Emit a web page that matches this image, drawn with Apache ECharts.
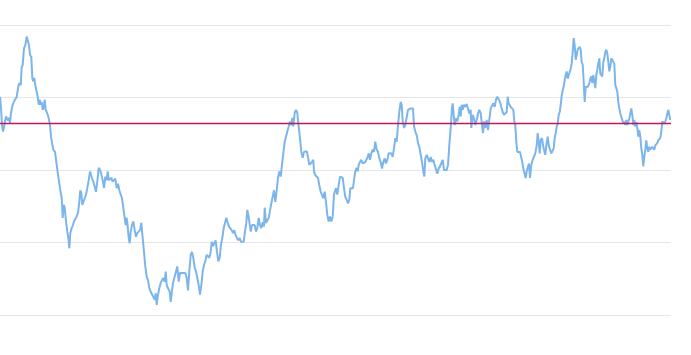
<!DOCTYPE html>
<html>
<head>
<meta charset="utf-8">
<script src="https://cdn.jsdelivr.net/npm/echarts@6/dist/echarts.min.js"></script>
<style>
html,body{margin:0;padding:0;background:#fff;}
#chart{width:691px;height:355px;}
</style>
</head>
<body>
<div id="chart"></div>
<script>
// Time steps (x) and series values (y)
var steps = [0,1,2,3,4,5,6,7,8,9,10,11,12,13.3,15,16.7,18.3,19.3,20.7,21.7,22.7,24,25.3,26.7,28,29,30,31.3,32.3,33.3,34.3,35.3,36.7,37.7,38.7,39.7,40.7,41.7,42.7,43.7,44.7,45.7,46.7,48.3,50,51,52.3,53.3,55,56.7,58.3,60,61.7,62.7,63.7,64.7,66,67.3,68.7,69.3,70.3,71.7,72.7,74,75.3,76.7,78,79.3,80.3,81.3,82.3,83.3,84.7,86,87.3,88.7,90,91,92,93.3,94.7,96,97.3,98.7,100,101,102,103,104,105.3,106.7,107.7,108.7,110,111.3,112.7,114,115.3,116.7,118,119.3,120.7,122,123.3,124.7,125.7,126.7,127.7,128.7,129.7,130.7,132,133.3,134.7,136,137.3,138.7,140,141.3,142.7,144,145.3,146.7,148,149.3,150.7,152,153.3,154.7,155.7,156.7,158,159.3,160.7,162,163.3,164.7,165.7,166.7,168,169.7,170.7,
172,173.3,174.7,176,177.3,178.7,180,181.3,182.7,184,185.3,186.7,188,189.3,190.7,192,193.3,194.7,196,197.3,198.7,200,201.3,202.7,204,205.3,206.7,208,209.3,210.7,211.7,213,214.3,215.7,217,218.3,219.7,221,222.3,223.7,225,226.3,227.7,229,230.3,231.7,233,234.3,235.7,237,238.3,239.7,241,242.3,243.7,245,246.3,247.3,248.3,249.3,250.7,252,253.3,254.7,256,257.3,258.7,260,261.3,262.7,264,264.7,266,267.3,268.7,270,271.3,272.7,274,275.3,276.7,278,279.3,280.7,282,283.3,284.7,286,287.3,288.7,290,291.3,292.3,293.3,294.7,296,297.3,298.3,299.3,300.3,301.3,302.7,304,305.3,306.7,308,309.3,310.7,312,313.3,314,315.3,316.7,318,319.3,320.7,322,323.3,324.7,326,327.3,328.7,330,331.3,332.7,334,335.3,336,337.3,338.7,
340,341.3,342.7,344,345.3,346.7,348,349.3,350.3,351.7,353,354.3,355.3,356.7,357.7,358.7,360,361.3,362.7,364,365.3,366.7,367.7,368.7,370,371.3,372.7,374,375.3,376.7,378,379.3,380.7,382,383.3,384.7,386,387.3,388.7,390,391.3,392.7,394,395.3,396.7,398,399.3,400.7,401.7,402.7,404,405.3,406.7,408,409.3,410.7,412,413,414,415.3,416.7,418,419.3,420.7,422,423.3,424.3,425.3,426.7,428,429.3,430.7,432,433.3,434.7,436,437.3,438.7,440,441.3,442.7,444,445.3,446.7,448,449.3,450.7,452,452.7,453.7,454.7,456,457.3,458.7,459.7,460.7,461.7,462.7,464,465.3,466.7,468,469.3,470.7,471.3,472.7,474,475.3,476.7,478,479.3,480.7,482,483,484,485.3,486.7,488,489.3,490.7,492,493.3,494.7,496,497.3,498.7,500,501.3,502.7,504,505.3,
506.7,507.7,508.7,509.7,510.7,512,513.3,514.3,515.3,516.3,517.3,518.7,520,521.3,522.3,523.3,524.7,525.7,526.7,528,529,530,531.3,532.7,534,535.3,536.7,537.7,538.7,539.7,540.7,542,543.3,544.3,545.3,546.3,547.7,548.7,550,551.3,552.7,553.7,554.7,555.7,556.7,557.7,558.7,559.7,560.7,561.7,562.7,563.7,564.7,565.7,566.7,567.7,568.7,569.7,570.7,571.7,572.7,573.7,574.7,575.7,576.7,577.7,578.7,579.7,580.7,581.7,582.7,583.7,584.7,585.7,586.7,588,589.3,590.3,591.3,592.3,593.3,594.3,595.3,596.3,597.3,598.3,599.3,600.3,601.3,602.3,603.3,604.3,605.3,606.3,607.3,608.3,609.3,610.3,611.3,612.3,613.3,614.3,615.3,616.3,617.3,618.3,619.3,620.3,621.3,622.3,623.3,624.3,625.3,626.3,627.3,628.3,629.3,630.3,631.3,632.3,633.3,634.3,635.3,636.3,637.3,638.3,639.3,640.3,641.3,642.3,643.3,644.3,645.3,646.3,647.3,648.3,649.3,650.3,651.3,652.3,653.3,654.3,655.3,656.3,657.3,658.3,659.3,660.3,661.3,662.3,663.3,664.3,665.3,666.3,667.3,668.3,669.3,670.3];

var values = [301,286,262,253,259,267,274,272,268,272,265,279,286,292,297,301,315,320,317,342,345,368,372,384,384,372,359,356,327,322,327,317,308,301,290,297,290,294,283,286,297,283,280,274,262,246,244,228,225,207,191,175,161,134,152,148,129,115,103,92,113,120,123,129,131,136,141,156,172,168,152,154,161,166,175,186,198,200,189,184,177,170,184,203,200,196,198,184,175,191,186,198,186,184,189,184,186,188,175,181,172,170,161,148,134,124,134,122,106,99,115,124,129,117,108,113,114,117,127,106,87,67,53,48,37,32,30,25,21,30,14,28,37,44,48,51,46,60,41,41,32,18,
34,46,48,60,67,46,58,60,58,60,58,51,34,60,83,87,79,65,60,51,41,28,41,60,69,74,83,83,79,87,101,95,99,103,87,74,79,97,106,120,127,134,127,122,124,117,113,117,110,106,103,106,101,102,101,115,127,145,138,129,115,124,122,124,115,120,134,124,120,128,122,148,127,129,134,136,154,163,172,156,172,189,198,191,207,223,239,246,253,260,267,262,272,260,279,283,279,264,253,239,225,217,225,223,226,218,207,205,211,214,198,193,191,189,179,170,172,161,170,156,138,129,136,129,136,166,172,175,166,179,
191,193,189,175,163,159,154,159,175,177,175,189,198,203,198,207,211,214,209,207,211,209,218,223,214,223,228,225,239,228,225,216,211,202,211,216,209,214,223,221,223,218,230,244,239,262,280,294,290,267,258,262,260,283,285,285,286,285,260,253,248,237,232,230,211,198,191,216,221,216,211,218,211,214,207,209,195,202,205,207,214,200,202,200,207,234,258,285,292,276,262,271,267,276,287,274,290,283,290,287,291,290,278,283,258,276,271,262,269,278,283,278,262,251,267,258,269,255,269,285,287,292,287,297,301,301,294,287,280,276,274,
280,301,292,292,287,285,283,267,262,239,225,225,225,223,211,202,200,189,198,205,209,189,207,214,216,223,234,251,239,223,241,244,232,234,221,234,246,234,228,223,221,230,244,251,260,264,276,280,290,303,310,315,324,331,336,326,324,326,340,347,363,382,372,352,359,366,368,370,366,349,345,322,294,315,317,315,320,326,329,320,331,333,313,331,338,347,354,333,335,329,349,354,363,366,361,349,336,342,354,352,354,347,317,313,308,294,285,278,276,269,264,267,262,269,262,260,271,278,285,276,262,269,260,266,258,246,255,246,230,221,205,218,228,241,230,225,232,228,230,232,230,228,234,232,237,241,239,244,253,267,269,264,267,271,278,283,276,269];

var refLevel = 264;

var seriesData = steps.map(function (s, i) { return [s, values[i]]; });

var chart = echarts.init(document.getElementById('chart'), null, {renderer: 'canvas'});
chart.setOption({
  animation: false,
  backgroundColor: '#ffffff',
  grid: {left: 0, right: 20, top: 25, bottom: 40, containLabel: false},
  xAxis: {
    type: 'value',
    min: 0,
    max: 671,
    show: true,
    axisLine: {show: false},
    axisTick: {show: false},
    axisLabel: {show: false},
    splitLine: {show: false}
  },
  yAxis: {
    type: 'value',
    min: 0,
    max: 400,
    interval: 100,
    axisLine: {show: false},
    axisTick: {show: false},
    axisLabel: {show: false},
    splitLine: {show: true, lineStyle: {color: '#e6e6e6', width: 1}}
  },
  series: [{
    type: 'line',
    data: seriesData,
    showSymbol: false,
    symbol: 'none',
    lineStyle: {color: '#7cb5ec', width: 2},
    itemStyle: {color: '#7cb5ec'},
    z: 2,
    markLine: {
      silent: true,
      symbol: ['none', 'none'],
      label: {show: false},
      emphasis: {disabled: true},
      lineStyle: {color: '#c0185e', width: 1.3, type: 'solid', opacity: 1},
      data: [{yAxis: refLevel, lineStyle: {color: '#c0185e', width: 1.3, type: 'solid'}}]
    }
  }]
});
</script>
</body>
</html>
